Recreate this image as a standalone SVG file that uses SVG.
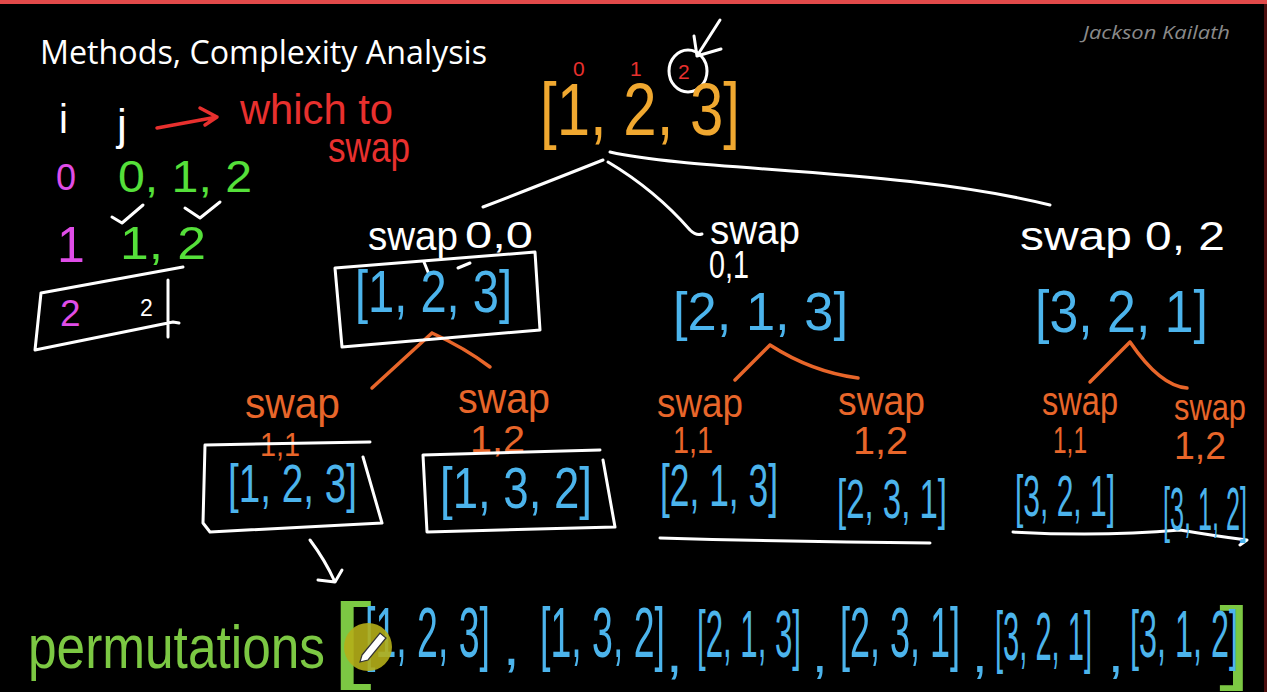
<svg xmlns="http://www.w3.org/2000/svg" width="1267" height="692" viewBox="0 0 1267 692">
<style>
  .h { font-family: "Liberation Sans", Arial, sans-serif; }
  .w { fill: #ffffff; }
  .b { fill: #4cb4ec; }
  .o { fill: #e8662a; }
  .y { fill: #f0a830; }
  .g { fill: #55e03a; }
  .pg { fill: #7cc843; }
  .m { fill: #e04de8; }
  .r { fill: #e8302e; }
  .sw { fill: none; stroke: #ffffff; stroke-width: 3; stroke-linecap: round; stroke-linejoin: round; }
  .so { fill: none; stroke: #e8662a; stroke-width: 3.5; stroke-linecap: round; }
  .sr { fill: none; stroke: #e8302e; stroke-width: 3.5; stroke-linecap: round; stroke-linejoin: round; }
</style>
<rect x="0" y="0" width="1267" height="692" fill="#000000"/>
<rect x="0" y="0" width="1267" height="4" fill="#e24a4a"/>
<rect x="1264" y="4" width="3" height="688" fill="#4a0e0e"/>

<g id="title">
  <text x="40" y="64" font-family="Open Sans, Liberation Sans, sans-serif" font-size="33" fill="#ffffff" textLength="447" lengthAdjust="spacingAndGlyphs">Methods, Complexity Analysis</text>
</g>
<g id="watermark">
  <text x="1083" y="39" font-family="Open Sans, Liberation Sans, sans-serif" font-style="italic" font-size="19" fill="#8a8a8a" textLength="147" lengthAdjust="spacingAndGlyphs">Jackson Kailath</text>
</g>

<g id="legend">
  <text class="h w" x="59" y="133" font-size="40">i</text>
  <text class="h w" x="117" y="140" font-size="44">j</text>
  <path class="sr" d="M157 128 L217 117 M200 108 L217 117 L205 125"/>
  <text class="h r" x="240" y="124" font-size="42" textLength="153" lengthAdjust="spacingAndGlyphs">which to</text>
  <text class="h r" x="328" y="162" font-size="42" textLength="82" lengthAdjust="spacingAndGlyphs">swap</text>
  <text class="h m" x="56" y="190" font-size="36">0</text>
  <text class="h g" x="118" y="192" font-size="44" textLength="134" lengthAdjust="spacingAndGlyphs">0, 1, 2</text>
  <path class="sw" d="M112 217 L122 223 L143 205 M185 208 L200 218 L220 202"/>
  <text class="h m" x="57" y="262" font-size="50">1</text>
  <text class="h g" x="120" y="259" font-size="46" textLength="86" lengthAdjust="spacingAndGlyphs">1, 2</text>
  <path class="sw" d="M41 293 L183 267 M35 350 L41 293 M35 350 L173 322 L179 323 M168 280 L168 337"/>
  <text class="h m" x="60" y="326" font-size="37">2</text>
  <text class="h w" x="140" y="316" font-size="23">2</text>
</g>

<g id="connectors">
  <path class="sw" d="M610 152 C 700 172, 900 168, 1050 205"/>
  <path class="sw" d="M608 162 Q 655 190 690 230 Q 696 236 702 234"/>
  <path class="sw" d="M603 160 Q 540 185 483 207"/>
  <path class="sw" d="M720 20 L697 56 M694 36 L697 56 L721 49"/>
  <path class="so" d="M432 333 L372 388 M432 333 Q 465 348 490 367"/>
  <path class="so" d="M770 345 L735 380 M770 345 Q 812 372 858 378"/>
  <path class="so" d="M1130 342 L1090 382 M1130 342 Q 1160 386 1187 388"/>
  <path class="sw" d="M310 540 Q 325 560 335 582 M318 580 L335 582 L342 570"/>
  <path class="sw" d="M660 538 Q 800 542 930 543"/>
  <path class="sw" d="M1013 532 Q 1100 537 1180 530 Q 1215 536 1247 540 L1240 545"/>
</g>

<g id="root">
  <text class="h r" x="573" y="76" font-size="21">0</text>
  <text class="h r" x="630" y="76" font-size="21">1</text>
  <text class="h r" x="678" y="79" font-size="21">2</text>
  <ellipse cx="688" cy="71" rx="19" ry="21" class="sw" stroke-width="2.5"/>
  <text class="h y" x="540" y="135" font-size="74" textLength="200" lengthAdjust="spacingAndGlyphs">[1, 2, 3]</text>
</g>

<g id="node-swap-0-0">
  <text class="h w" x="368" y="250" font-size="40" textLength="90" lengthAdjust="spacingAndGlyphs">swap</text>
  <text class="h w" x="465" y="248" font-size="36" textLength="68" lengthAdjust="spacingAndGlyphs">0,0</text>
  <path class="sw" d="M335 268 L535 252 L540 330 L342 347 Z"/>
  <path class="sw" stroke-width="2" d="M424 262 L428 272 M458 268 L470 263"/>
  <text class="h b" x="355" y="312" font-size="60" textLength="157" lengthAdjust="spacingAndGlyphs">[1, 2, 3]</text>
</g>

<g id="node-swap-0-1">
  <text class="h w" x="710" y="244" font-size="40" textLength="90" lengthAdjust="spacingAndGlyphs">swap</text>
  <text class="h w" x="709" y="278" font-size="38" textLength="40" lengthAdjust="spacingAndGlyphs">0,1</text>
  <text class="h b" x="673" y="330" font-size="54" textLength="175" lengthAdjust="spacingAndGlyphs">[2, 1, 3]</text>
</g>

<g id="node-swap-0-2">
  <text class="h w" x="1020" y="250" font-size="40" textLength="205" lengthAdjust="spacingAndGlyphs">swap 0, 2</text>
  <text class="h b" x="1035" y="332" font-size="60" textLength="173" lengthAdjust="spacingAndGlyphs">[3, 2, 1]</text>
</g>

<g id="leaf-1">
  <text class="h o" x="245" y="418" font-size="42" textLength="95" lengthAdjust="spacingAndGlyphs">swap</text>
  <text class="h o" x="260" y="456" font-size="34" textLength="40" lengthAdjust="spacingAndGlyphs">1,1</text>
  <path class="sw" d="M205 445 L370 442 M363 457 L382 523 L210 532 L203 523 L205 445"/>
  <text class="h b" x="228" y="502" font-size="54" textLength="129" lengthAdjust="spacingAndGlyphs">[1, 2, 3]</text>
</g>

<g id="leaf-2">
  <text class="h o" x="458" y="413" font-size="42" textLength="92" lengthAdjust="spacingAndGlyphs">swap</text>
  <text class="h o" x="470" y="452" font-size="36" textLength="55" lengthAdjust="spacingAndGlyphs">1,2</text>
  <path class="sw" d="M423 455 L600 450 M603 460 L615 527 L427 532 L423 455"/>
  <text class="h b" x="440" y="508" font-size="58" textLength="152" lengthAdjust="spacingAndGlyphs">[1, 3, 2]</text>
</g>

<g id="leaf-3">
  <text class="h o" x="657" y="417" font-size="40" textLength="86" lengthAdjust="spacingAndGlyphs">swap</text>
  <text class="h o" x="673" y="453" font-size="36" textLength="40" lengthAdjust="spacingAndGlyphs">1,1</text>
  <text class="h b" x="660" y="506" font-size="60" textLength="118" lengthAdjust="spacingAndGlyphs">[2, 1, 3]</text>
</g>

<g id="leaf-4">
  <text class="h o" x="838" y="415" font-size="40" textLength="87" lengthAdjust="spacingAndGlyphs">swap</text>
  <text class="h o" x="853" y="454" font-size="38" textLength="55" lengthAdjust="spacingAndGlyphs">1,2</text>
  <text class="h b" x="837" y="518" font-size="56" textLength="110" lengthAdjust="spacingAndGlyphs">[2, 3, 1]</text>
</g>

<g id="leaf-5">
  <text class="h o" x="1042" y="415" font-size="40" textLength="76" lengthAdjust="spacingAndGlyphs">swap</text>
  <text class="h o" x="1053" y="453" font-size="36" textLength="34" lengthAdjust="spacingAndGlyphs">1,1</text>
  <text class="h b" x="1015" y="516" font-size="58" textLength="100" lengthAdjust="spacingAndGlyphs">[3, 2, 1]</text>
</g>

<g id="leaf-6">
  <text class="h o" x="1174" y="420" font-size="36" textLength="72" lengthAdjust="spacingAndGlyphs">swap</text>
  <text class="h o" x="1174" y="459" font-size="38" textLength="52" lengthAdjust="spacingAndGlyphs">1,2</text>
  <text class="h b" x="1163" y="530" font-size="62" textLength="84" lengthAdjust="spacingAndGlyphs">[3, 1, 2]</text>
</g>

<g id="permutations">
  <text class="h pg" x="28" y="668" font-size="62" textLength="297" lengthAdjust="spacingAndGlyphs">permutations</text>
  <text class="h pg" x="330" y="670" font-size="95" textLength="42" lengthAdjust="spacingAndGlyphs">[</text>
  <text class="h pg" x="1219" y="672" font-size="92" textLength="32" lengthAdjust="spacingAndGlyphs">]</text>
  <text class="h b" x="365" y="657" font-size="70" textLength="125" lengthAdjust="spacingAndGlyphs">[1, 2, 3]</text>
  <text class="h b" x="503" y="665" font-size="60">,</text>
  <text class="h b" x="540" y="657" font-size="70" textLength="125" lengthAdjust="spacingAndGlyphs">[1, 3, 2]</text>
  <text class="h b" x="666" y="672" font-size="60">,</text>
  <text class="h b" x="697" y="657" font-size="66" textLength="104" lengthAdjust="spacingAndGlyphs">[2, 1, 3]</text>
  <text class="h b" x="812" y="672" font-size="56">,</text>
  <text class="h b" x="840" y="657" font-size="70" textLength="120" lengthAdjust="spacingAndGlyphs">[2, 3, 1]</text>
  <text class="h b" x="972" y="672" font-size="56">,</text>
  <text class="h b" x="995" y="660" font-size="68" textLength="97" lengthAdjust="spacingAndGlyphs">[3, 2, 1]</text>
  <text class="h b" x="1108" y="672" font-size="56">,</text>
  <text class="h b" x="1130" y="657" font-size="66" textLength="108" lengthAdjust="spacingAndGlyphs">[3, 1, 2]</text>
  <circle cx="368" cy="647" r="24" fill="#b4ae18" fill-opacity="0.9"/>
  <path d="M362 655 L380 633 L386 638 L368 660 L360 662 Z" fill="#ffffff" stroke="#333333" stroke-width="1.2"/>
</g>
</svg>
